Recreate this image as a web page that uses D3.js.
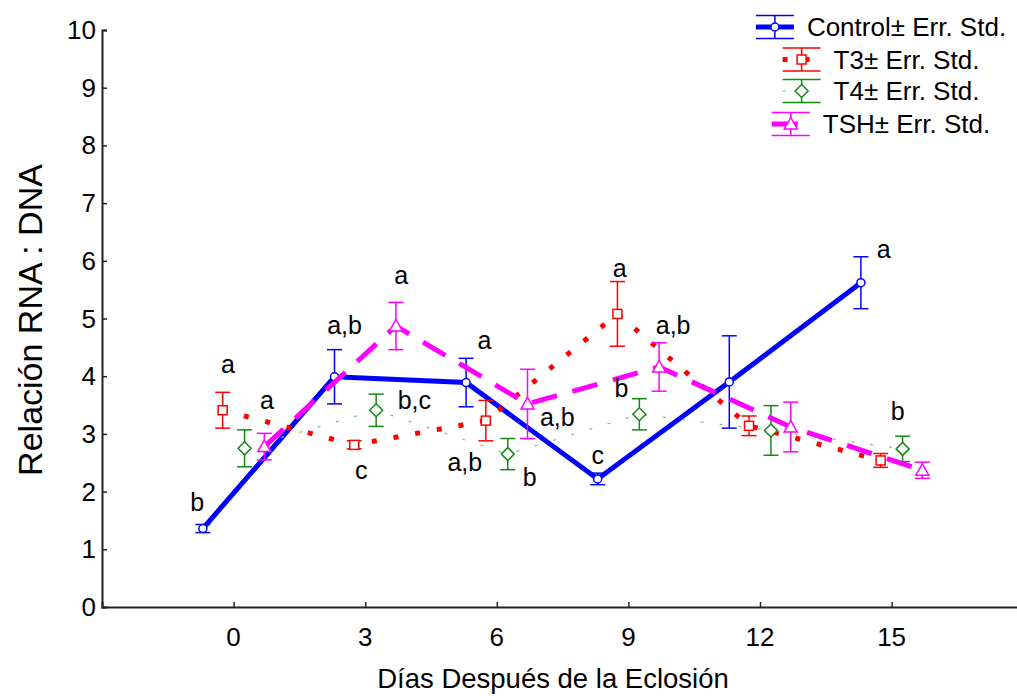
<!DOCTYPE html>
<html>
<head>
<meta charset="utf-8">
<script src="https://cdn.jsdelivr.net/npm/d3@7"></script>
<style>
  html, body { margin: 0; padding: 0; background: #fff; }
  svg { display: block; font-family: "Liberation Sans", Arial, sans-serif; }
</style>
</head>
<body>
<svg id="chart" width="1017" height="696"></svg>
<script>
// ---------------- data ----------------
const days = [0, 3, 6, 9, 12, 15];
const xTicks = [0, 3, 6, 9, 12, 15];
const yTicks = [0, 1, 2, 3, 4, 5, 6, 7, 8, 9, 10];

const controlMean = [1.36, 3.99, 3.89, 2.22, 3.90, 5.62];
const controlErr  = [0.07, 0.47, 0.42, 0.10, 0.80, 0.45];
const t3Mean      = [3.41, 2.81, 3.23, 5.08, 3.14, 2.54];
const t3Err       = [0.31, 0.07, 0.35, 0.56, 0.17, 0.12];
const t4Mean      = [2.75, 3.41, 2.65, 3.34, 3.06, 2.74];
const t4Err       = [0.32, 0.28, 0.27, 0.27, 0.43, 0.22];
const tshMean     = [2.78, 4.87, 3.52, 4.16, 3.12, 2.37];
const tshErr      = [0.23, 0.41, 0.60, 0.42, 0.43, 0.14];

const seriesNames = ["Control", "T3", "T4", "TSH"];
const legendLabels = ["Control± Err. Std.", "T3± Err. Std.", "T4± Err. Std.", "TSH± Err. Std."];
const dayOffsets = [-0.7, -0.25, 0.25, 0.7];

// significance letters: [day position, value position, text]
const letters = [
  [-0.83, 1.82, "b"], [-0.13, 4.22, "a"], [0.76, 3.59, "a"],
  [2.53, 4.89, "a,b"], [3.82, 5.75, "a"], [4.12, 3.59, "b,c"], [2.91, 2.37, "c"],
  [5.72, 4.63, "a"], [5.27, 2.52, "a,b"], [6.75, 2.26, "b"], [7.38, 3.3, "a,b"],
  [8.3, 2.63, "c"], [8.8, 5.87, "a"], [10.02, 4.89, "a,b"], [8.84, 3.79, "b"],
  [14.82, 6.2, "a"], [15.14, 3.39, "b"]
];

// ---------------- layout ----------------
const svg = d3.select("#chart");
const x = d3.scaleLinear().domain([-3, 18]).range([102, 1023.2]);
const y = d3.scaleLinear().domain([0, 10]).range([607, 30]);

const styles = [
  { color: "#0000ff", width: 5, dash: null, lineColor: "#0000ff", marker: "circle" },
  { color: "#ff0000", width: 5, dash: "5,17", lineColor: "#ff0000", marker: "square" },
  { color: "#138a13", width: 1.2, dash: "3,16", lineColor: "#78c078", marker: "diamond" },
  { color: "#ff00ff", width: 5, dash: "26,16", lineColor: "#ff00ff", marker: "triangle" }
];

const seriesData = [
  [controlMean, controlErr], [t3Mean, t3Err], [t4Mean, t4Err], [tshMean, tshErr]
];

// ---------------- axes ----------------
const fontTick = 26;
const yAxis = svg.append("g").attr("transform", `translate(${x(-3)},0)`)
  .call(d3.axisRight(y).tickValues(yTicks).tickSize(5).tickFormat(""));
yAxis.select(".domain").attr("stroke", "#222").attr("stroke-width", 2);
yAxis.selectAll(".tick line").attr("stroke", "#222").attr("stroke-width", 1.5);
svg.append("g").selectAll("text").data(yTicks).join("text")
  .attr("x", 96).attr("y", d => y(d)).attr("text-anchor", "end")
  .attr("dominant-baseline", "central").attr("font-size", fontTick).text(d => d);

const xAxis = svg.append("g").attr("transform", `translate(0,${y(0)})`)
  .call(d3.axisTop(x).tickValues(xTicks).tickSize(5).tickFormat(""));
xAxis.select(".domain").attr("stroke", "#222").attr("stroke-width", 2);
xAxis.selectAll(".tick line").attr("stroke", "#222").attr("stroke-width", 1.5);
svg.append("g").selectAll("text").data(xTicks).join("text")
  .attr("x", d => x(d)).attr("y", 637).attr("text-anchor", "middle")
  .attr("dominant-baseline", "central").attr("font-size", fontTick).text(d => d);

svg.append("text").attr("x", 553).attr("y", 678).attr("text-anchor", "middle")
  .attr("dominant-baseline", "central").attr("font-size", 27.5)
  .text("Días Después de la Eclosión");
svg.append("text").attr("transform", "translate(30,320) rotate(-90)")
  .attr("text-anchor", "middle").attr("dominant-baseline", "central")
  .attr("font-size", 34).text("Relación RNA : DNA");

// ---------------- markers ----------------
function drawMarker(g, type, cx, cy, color) {
  if (type === "circle") {
    g.append("circle").attr("cx", cx).attr("cy", cy).attr("r", 4)
      .attr("fill", "#fff").attr("stroke", color).attr("stroke-width", 1.5);
  } else if (type === "square") {
    g.append("rect").attr("x", cx - 4.5).attr("y", cy - 4.5).attr("width", 9).attr("height", 9)
      .attr("fill", "#fff").attr("stroke", color).attr("stroke-width", 1.5);
  } else if (type === "diamond") {
    g.append("path").attr("d", `M${cx},${cy - 6.5}L${cx + 6.5},${cy}L${cx},${cy + 6.5}L${cx - 6.5},${cy}Z`)
      .attr("fill", "#fff").attr("stroke", color).attr("stroke-width", 1.5);
  } else {
    g.append("path").attr("d", `M${cx},${cy - 6.5}L${cx + 6.5},${cy + 5}L${cx - 6.5},${cy + 5}Z`)
      .attr("fill", "#fff").attr("stroke", color).attr("stroke-width", 1.5);
  }
}

// ---------------- series ----------------
seriesData.forEach(([mean, err], s) => {
  const st = styles[s];
  const g = svg.append("g").attr("class", "series-" + seriesNames[s]);
  const pts = days.map((d, i) => ({ d: d + dayOffsets[s], v: mean[i], e: err[i] }));
  const line = d3.line().x(p => x(p.d)).y(p => y(p.v));
  const path = g.append("path").datum(pts).attr("d", line)
    .attr("fill", "none").attr("stroke", st.lineColor).attr("stroke-width", st.width)
    .attr("stroke-linejoin", "miter");
  if (st.dash) path.attr("stroke-dasharray", st.dash);
  pts.forEach(p => {
    const cx = x(p.d);
    g.append("line").attr("x1", cx).attr("x2", cx).attr("y1", y(p.v + p.e)).attr("y2", y(p.v - p.e))
      .attr("stroke", st.color).attr("stroke-width", 1.5);
    [p.v + p.e, p.v - p.e].forEach(v => {
      g.append("line").attr("x1", cx - 7.5).attr("x2", cx + 7.5).attr("y1", y(v)).attr("y2", y(v))
        .attr("stroke", st.color).attr("stroke-width", 1.5);
    });
    drawMarker(g, st.marker, cx, y(p.v), st.color);
  });
});

// ---------------- letters ----------------
svg.append("g").selectAll("text").data(letters).join("text")
  .attr("x", d => x(d[0])).attr("y", d => y(d[1]))
  .attr("text-anchor", "middle").attr("dominant-baseline", "central")
  .attr("font-size", 25).text(d => d[2]);

// ---------------- legend ----------------
const legendRows = [27, 59.5, 91, 124];
const legendCenter = 881;
const symW = 38, gap = 13;
const legend = svg.append("g");
legendLabels.forEach((lab, i) => {
  const st = styles[i];
  const row = legend.append("g");
  const t = row.append("text").attr("y", legendRows[i]).attr("dominant-baseline", "central")
    .attr("font-size", 26).text(lab);
  const tw = t.node().getComputedTextLength();
  const total = symW + gap + tw;
  const x0 = legendCenter - total / 2;
  t.attr("x", x0 + symW + gap);
  const cy = legendRows[i];
  const ln = row.append("line").attr("x1", x0).attr("x2", x0 + symW).attr("y1", cy).attr("y2", cy)
    .attr("stroke", st.lineColor).attr("stroke-width", st.width);
  if (st.dash) ln.attr("stroke-dasharray", st.dash);
  const cx = x0 + symW / 2;
  row.append("line").attr("x1", cx).attr("x2", cx).attr("y1", cy - 11.5).attr("y2", cy + 11.5)
    .attr("stroke", st.color).attr("stroke-width", 1.5);
  [cy - 11.5, cy + 11.5].forEach(v => {
    row.append("line").attr("x1", x0).attr("x2", x0 + symW).attr("y1", v).attr("y2", v)
      .attr("stroke", st.color).attr("stroke-width", 1.5);
  });
  drawMarker(row, st.marker, cx, cy, st.color);
});
</script>
</body>
</html>
